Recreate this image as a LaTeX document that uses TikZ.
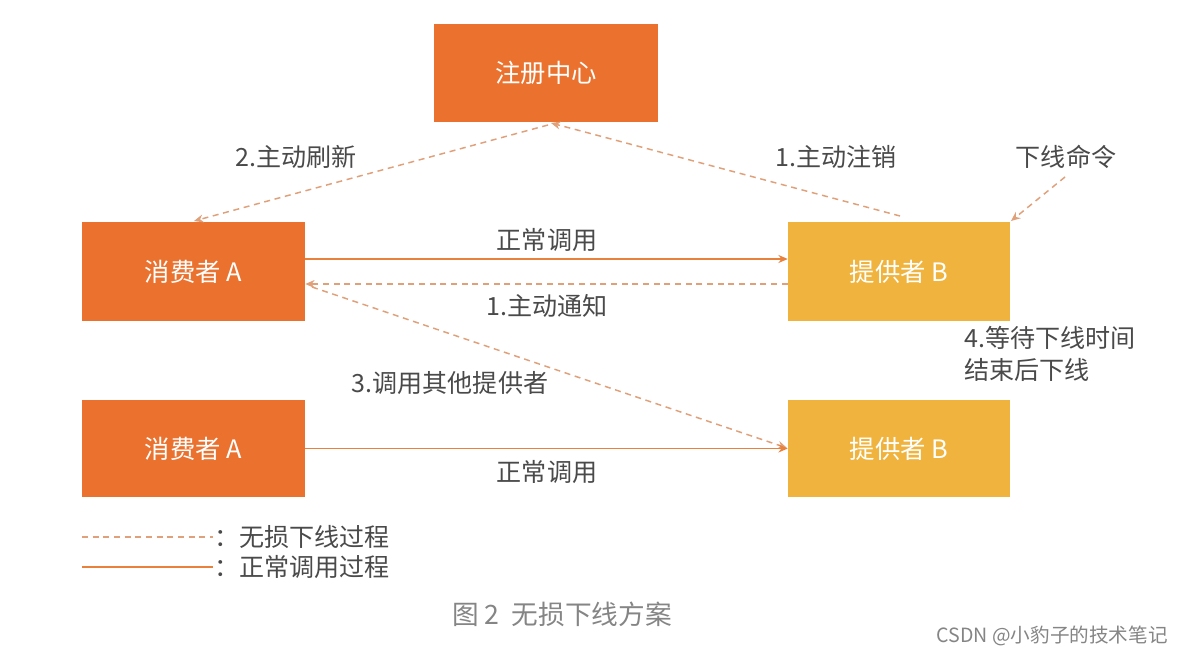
\documentclass[tikz,border=0pt]{standalone}
\usepackage{fontspec}
\setmainfont{Noto Sans CJK SC}
\usetikzlibrary{arrows.meta}
\definecolor{corange}{HTML}{EA722E}
\definecolor{pyellow}{HTML}{F0B43E}
\definecolor{solidline}{HTML}{E8813C}
\definecolor{dashline}{HTML}{E0A07A}
\definecolor{txt}{HTML}{4A4A4A}
\definecolor{captxt}{HTML}{858585}
\begin{document}
\begin{tikzpicture}[x=0.75pt,y=-0.75pt,
  cbox/.style={fill=corange,draw=none,text=white,font=\fontsize{19}{22}\selectfont,minimum width=167.25pt,minimum height=74.25pt,inner sep=0pt},
  pbox/.style={fill=pyellow,draw=none,text=white,font=\fontsize{19}{22}\selectfont,minimum width=166.5pt,minimum height=74.25pt,inner sep=0pt},
  lbl/.style={text=txt,font=\fontsize{18.8}{22}\selectfont,inner sep=0pt},
  tip/.style={-{Stealth[length=7pt,width=6pt]}},
  solidarrow/.style={tip,draw=solidline,line width=1.1pt},
  dasharrow/.style={tip,draw=dashline,line width=1.1pt,dash pattern=on 4.5pt off 3.5pt}
]
\useasboundingbox (0,0) rectangle (1184,656);
\fill[white] (0,0) rectangle (1184,656);

% boxes
\node[cbox,minimum width=168pt,minimum height=73.5pt] (reg) at (546,73) {注册中心};
\node[cbox] (ca1) at (193.5,271.5) {消费者 A};
\node[pbox] (pb1) at (899,271.5) {提供者 B};
\node[cbox,minimum height=72.75pt] (ca2) at (193.5,448.5) {消费者 A};
\node[pbox,minimum height=72.75pt] (pb2) at (899,448.5) {提供者 B};

% free-end / anchor coordinates
\coordinate (regtip) at (551,123);
\coordinate (regstart) at (548,125);
\coordinate (ca1tip) at (194,221);
\coordinate (pb1top) at (900,216);
\coordinate (cmd) at (1065,177);
\coordinate (pb1corner) at (1011,221);
\coordinate (ca1out) at (312,287);
\coordinate (pb2in) at (787,448);

% connectors
\draw[dasharrow] (pb1top) -- (regtip);
\draw[dasharrow] (regstart) -- (ca1tip);
\draw[dasharrow] (cmd) -- (pb1corner);
\draw[solidarrow] (ca1.east |- 0,259) -- (pb1.west |- 0,259);
\draw[dasharrow] (pb1.west |- 0,284) -- (ca1.east |- 0,284);
\draw[dasharrow] (ca1out) -- (pb2in);
\draw[solidarrow] (ca2.east) -- (pb2.west);

% labels
\node[lbl] (l1) at (296,157) {2.主动刷新};
\node[lbl] (l2) at (836,157) {1.主动注销};
\node[lbl] (l3) at (1066,157) {下线命令};
\node[lbl] (l4) at (547,240) {正常调用};
\node[lbl] (l5) at (547,306) {1.主动通知};
\node[lbl] (l6) at (450,383) {3.调用其他提供者};
\node[lbl,anchor=west] (l7) at (964,338) {4.等待下线时间};
\node[lbl,anchor=west] (l8) at (964,370) {结束后下线};
\node[lbl] (l9) at (547,472) {正常调用};

% legend
\coordinate (lg1a) at (82,537);
\coordinate (lg1b) at (213,537);
\coordinate (lg2a) at (82,567);
\coordinate (lg2b) at (213,567);
\draw[draw=dashline,line width=1.1pt,dash pattern=on 4.5pt off 3.5pt] (lg1a) -- (lg1b);
\draw[draw=solidline,line width=1.1pt] (lg2a) -- (lg2b);
\node[lbl,anchor=west] (lg1) at (214,537) {：无损下线过程};
\node[lbl,anchor=west] (lg2) at (214,567) {：正常调用过程};

% caption
\node[text=captxt,font=\fontsize{20}{24}\selectfont,inner sep=0pt] (cap) at (562,614) {图 2\ \ 无损下线方案};
\node[text=captxt,font=\fontsize{14.7}{17}\selectfont,inner sep=0pt,anchor=east] (wm) at (1168,636) {CSDN @小豹子的技术笔记};
\end{tikzpicture}
\end{document}
